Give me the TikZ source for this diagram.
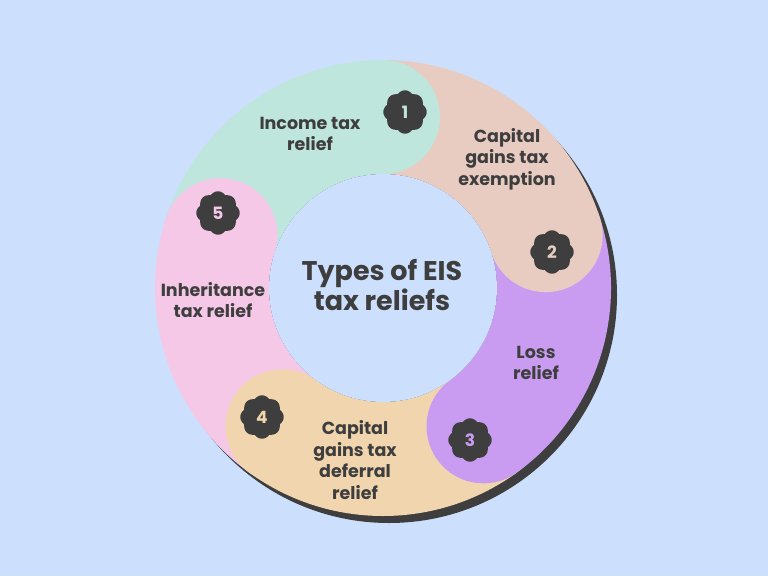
\documentclass[tikz,border=0pt]{standalone}
\usepackage{fontspec}
\setmainfont{Poppins}
\usetikzlibrary{calc}
\definecolor{bg}{HTML}{CCE0FE}
\definecolor{dark}{HTML}{3E3E3E}
\definecolor{cgreen}{HTML}{BFE6DC}
\definecolor{cpeach}{HTML}{E8CCC1}
\definecolor{cpurple}{HTML}{C99CF2}
\definecolor{ctan}{HTML}{F0D5AE}
\definecolor{cpink}{HTML}{F5C8E7}
\tikzset{
  lbl/.style={text=dark, align=center, font=\bfseries\fontsize{17.5}{21.5}\selectfont, inner sep=0pt},
  ttl/.style={text=dark, align=center, font=\bfseries\fontsize{27}{30}\selectfont, inner sep=0pt},
  num/.style={font=\bfseries\fontsize{17}{17}\selectfont, inner sep=0pt},
}
\newcommand{\sector}[3]{% color, start, end (tikz angles)
  \fill[#1] (#2:228) arc[start angle=#2, end angle=#3, radius=228]
    -- (#3:114) arc[start angle=#3, end angle=#2, radius=114] -- cycle;}
\begin{document}
\begin{tikzpicture}[x=1pt,y=-1pt]
\fill[bg] (0,0) rectangle (768,576);
\useasboundingbox (0,0) rectangle (768,576);
\coordinate (C) at (383,288);
% shadow
\fill[dark] ($(C)+(6,7)$) circle (228);
\begin{scope}[shift={(C)}]
  \sector{cgreen}{-162}{-90}
  \sector{cpeach}{-90}{-18}
  \sector{cpurple}{-18}{54}
  \sector{ctan}{54}{126}
  \sector{cpink}{126}{198}
  \fill[cgreen] (-90:171) circle (57);
  \fill[cpeach] (-18:171) circle (57);
  \fill[cpurple] (54:171) circle (57);
  \fill[ctan] (126:171) circle (57);
  \fill[cpink] (-162:171) circle (57);
  \fill[bg] (0,0) circle (114);
\end{scope}
% badges
\foreach \n/\x/\y/\c in {1/405/112/cgreen,2/552/252/cpeach,3/470/440/cpurple,4/262/417/ctan,5/218/213/cpink}{
  \fill[dark] plot[samples=145, domain=0:360, variable=\t]
    ({\x+(19.2+2.5*abs(cos(4*\t)))*cos(\t)}, {\y+(19.2+2.5*abs(cos(4*\t)))*sin(\t)}) -- cycle;
  \node[num, text=\c] (b\n) at (\x,\y) {\n};
}
% labels
\node[ttl] (title) at (382,285) {Types of EIS\\tax reliefs};
\node[lbl] (l1) at (310,134) {Income tax\\relief};
\node[lbl] (l2) at (507,159) {Capital\\gains tax\\exemption};
\node[lbl] (l3) at (536,363) {Loss\\relief};
\node[lbl] (l4) at (355,460) {Capital\\gains tax\\deferral\\relief};
\node[lbl] (l5) at (213,300) {Inheritance\\tax relief};
\end{tikzpicture}
\end{document}
